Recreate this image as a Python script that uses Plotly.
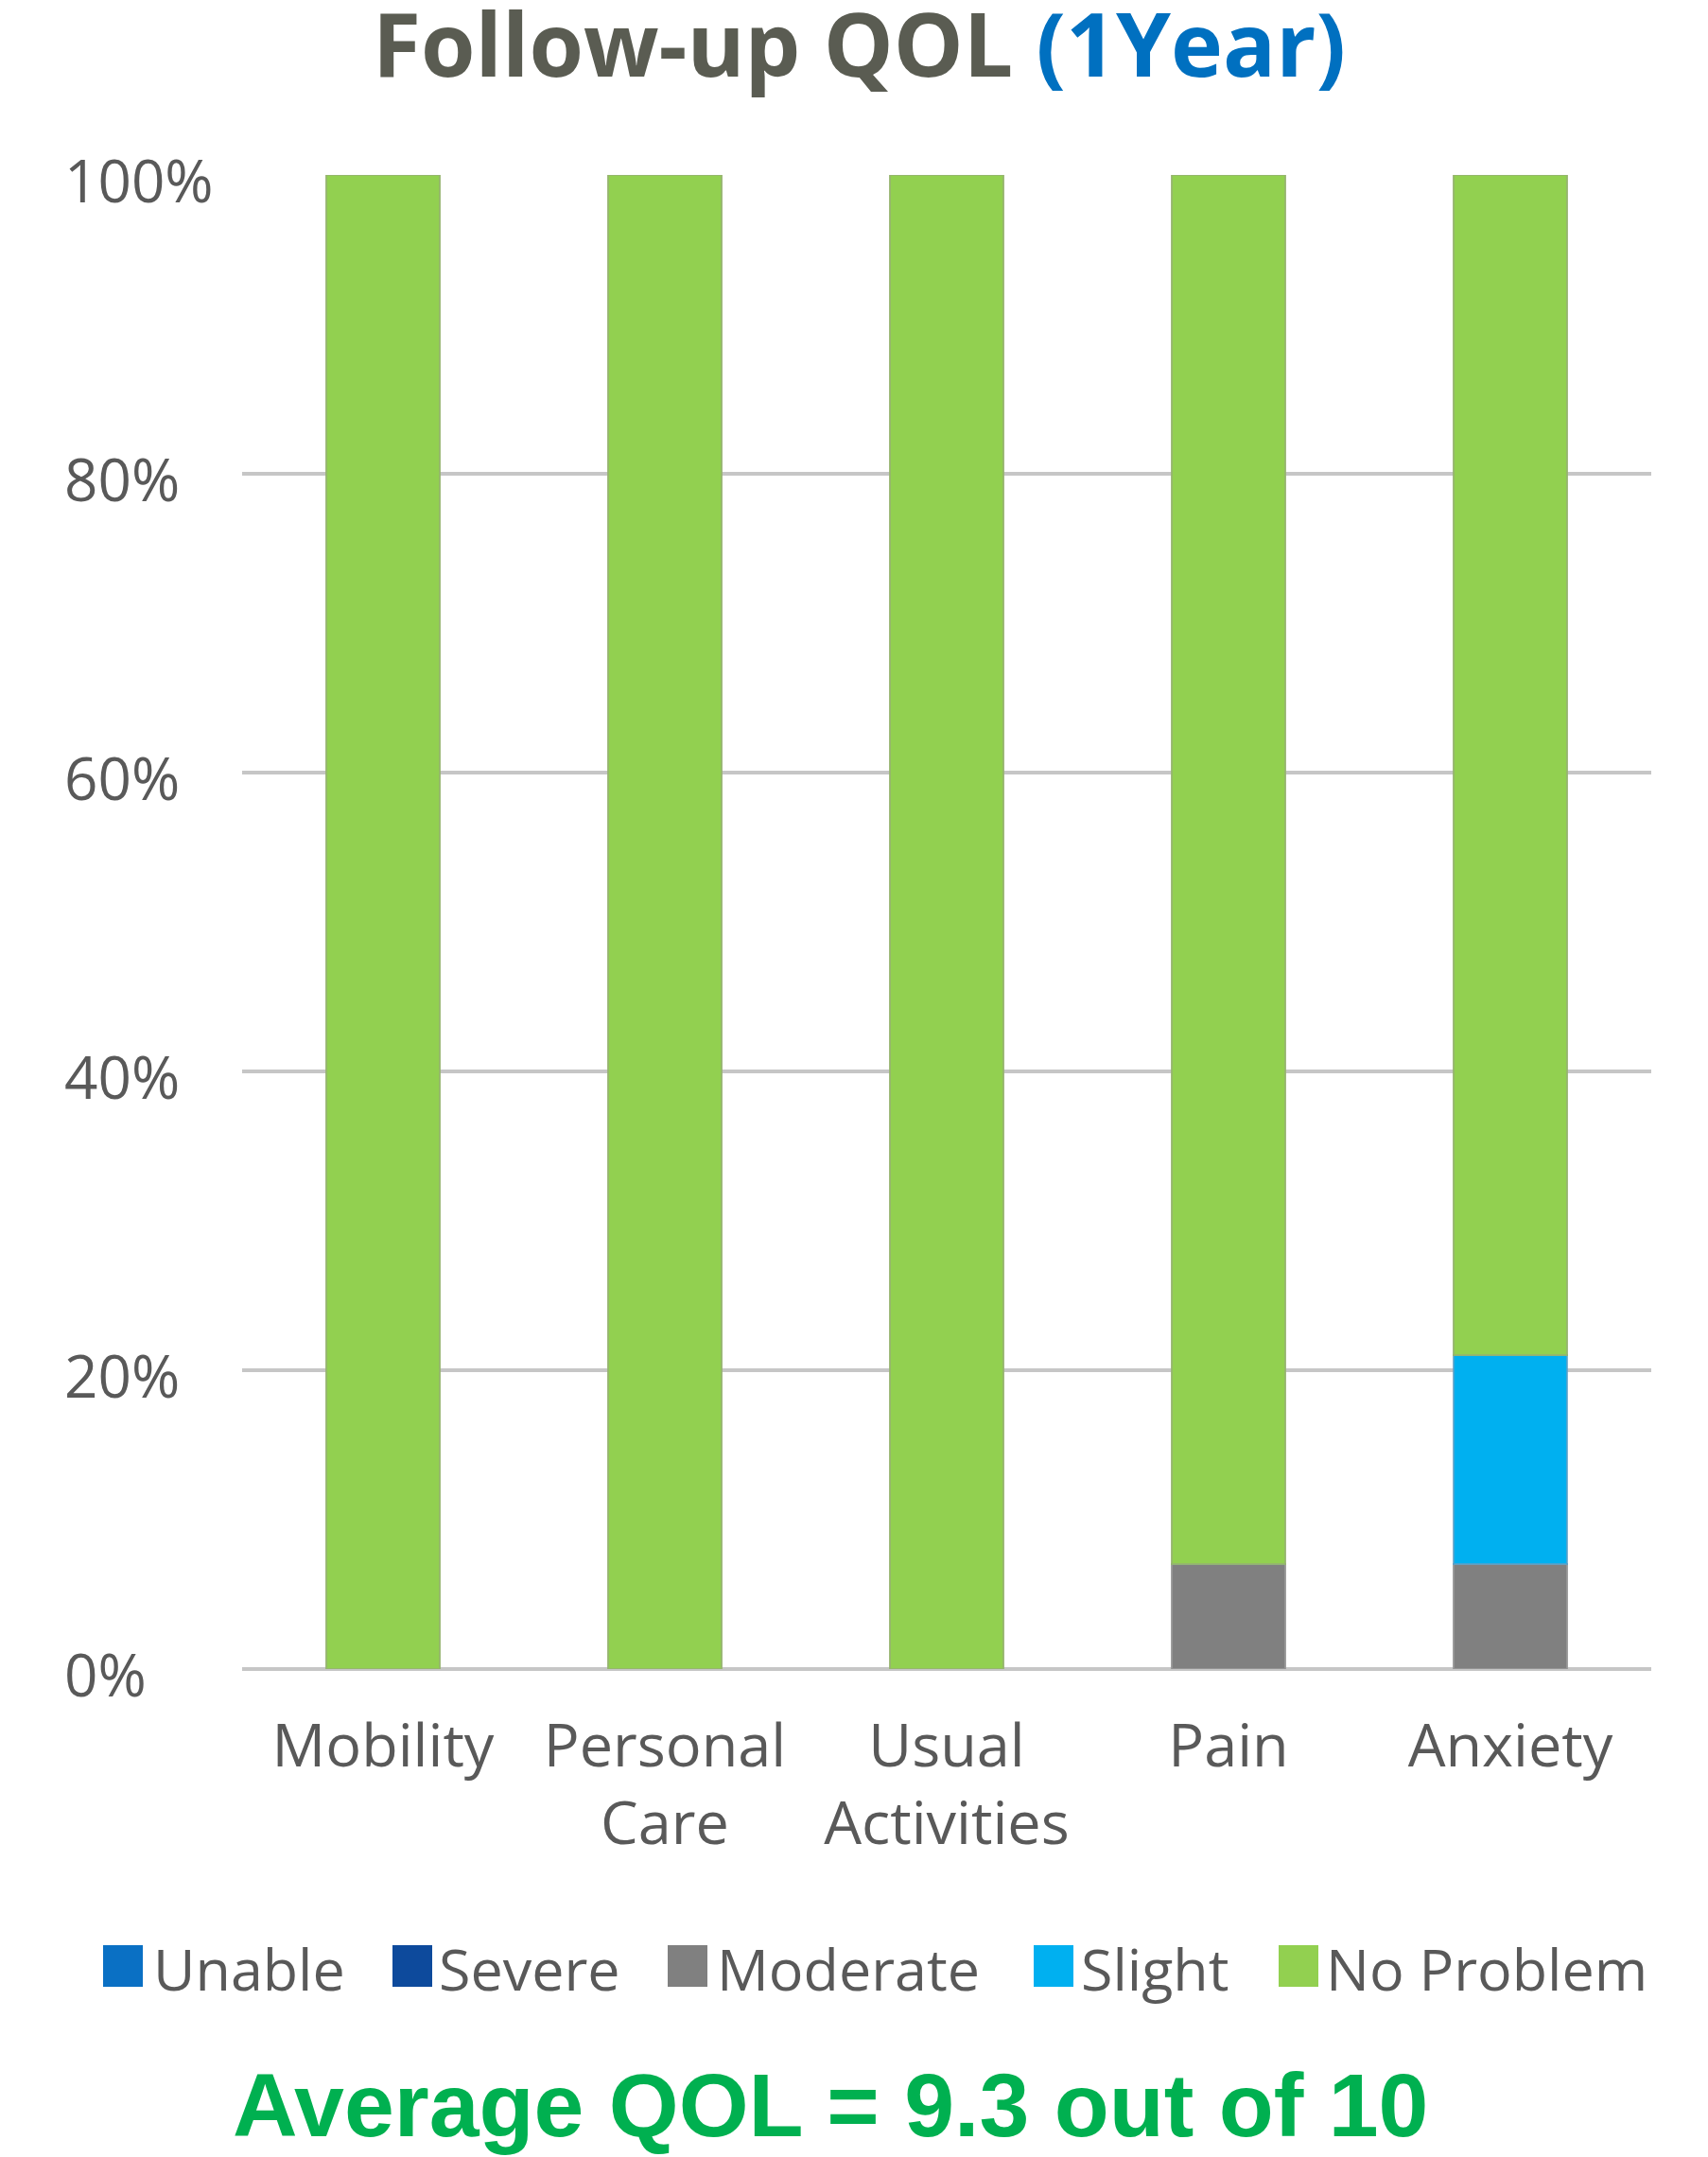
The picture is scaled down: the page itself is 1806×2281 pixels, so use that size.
import plotly.graph_objects as go

categories = ["Mobility", "Personal<br>Care", "Usual<br>Activities", "Pain", "Anxiety"]
series_names = ["Unable", "Severe", "Moderate", "Slight", "No Problem"]
unable = [0, 0, 0, 0, 0]
severe = [0, 0, 0, 0, 0]
moderate = [0, 0, 0, 7, 7]
slight = [0, 0, 0, 0, 14]
no_problem = [100, 100, 100, 93, 79]
colors = ["#0a70c4", "#0d4a9c", "#808080", "#00b0f0", "#92d050"]
outline = ["rgba(90,110,140,0.6)", "rgba(90,110,140,0.6)", "rgba(150,150,150,0.9)",
           "rgba(90,160,200,0.8)", "rgba(150,180,110,0.9)"]
y_ticks = [0, 20, 40, 60, 80, 100]
y_tick_labels = ["0%", "20%", "40%", "60%", "80%", "100%"]

values = [unable, severe, moderate, slight, no_problem]

# page geometry (pixels) used to place legend / texts
W, H = 1806, 2281
ML, MR, MT, MB = 256, 60, 185, 516
PW, PH = W - ML - MR, H - MT - MB


def px_x(x):
    return (x - ML) / PW


def px_y(y):
    return (H - MB - y) / PH


fig = go.Figure()
for name, vals, col, oc in zip(series_names, values, colors, outline):
    fig.add_trace(go.Bar(
        x=categories, y=vals, name=name, showlegend=False,
        marker=dict(color=col, line=dict(color=oc, width=2)),
    ))

gray = "#595959"
fig.update_layout(
    width=W, height=H,
    barmode="stack", bargap=0.6,
    paper_bgcolor="white", plot_bgcolor="white",
    margin=dict(l=ML, r=MR, t=MT, b=MB),
    font=dict(family="Open Sans", color=gray, size=62),
    showlegend=False,
    xaxis=dict(showgrid=False, showline=False, ticks="outside", ticklen=26,
               tickcolor="rgba(0,0,0,0)", tickfont=dict(size=63, color=gray)),
    yaxis=dict(range=[0, 100], tickvals=y_ticks, showticklabels=False,
               showgrid=True, gridcolor="#c6c6c6", gridwidth=4,
               zeroline=True, zerolinecolor="#c6c6c6", zerolinewidth=4,
               showline=False, fixedrange=True),
)

for v, lab in zip(y_ticks, y_tick_labels):
    fig.add_annotation(x=px_x(66), xref="paper", y=v, yref="y", text=lab,
                       showarrow=False, xanchor="left", yanchor="middle", yshift=-5,
                       font=dict(size=62, color=gray, family="Open Sans"))

# manual legend (larger swatches like the original)
sw_left = [109, 415, 706, 1093, 1352]
txt_left = [160, 462, 756, 1141, 1400]
sw_w, sw_top, sw_bot, leg_cy = 42, 2057, 2101, 2081
for name, col, sx, tx in zip(series_names, colors, sw_left, txt_left):
    fig.add_shape(type="rect", xref="paper", yref="paper",
                  x0=px_x(sx), x1=px_x(sx + sw_w), y0=px_y(sw_bot), y1=px_y(sw_top),
                  fillcolor=col, line=dict(width=0))
    fig.add_annotation(x=px_x(tx), xref="paper", y=px_y(leg_cy), yref="paper",
                       text=name, showarrow=False, xanchor="left", yanchor="middle",
                       font=dict(size=61, color=gray, family="Open Sans"))

fig.add_annotation(
    x=px_x(908), xref="paper", y=px_y(45), yref="paper", yanchor="middle",
    text="<b>Follow-up QOL <span style='color:#0070c0'>(1Year)</span></b>",
    showarrow=False, font=dict(size=93, color="#5a5c52", family="Open Sans"))

fig.add_annotation(
    x=px_x(878), xref="paper", y=px_y(2226), yref="paper", yanchor="middle",
    text="<b>Average QOL = 9.3 out of 10</b>",
    showarrow=False, font=dict(size=95, color="#00b050", family="Liberation Sans"))

fig.write_html("out.html")
